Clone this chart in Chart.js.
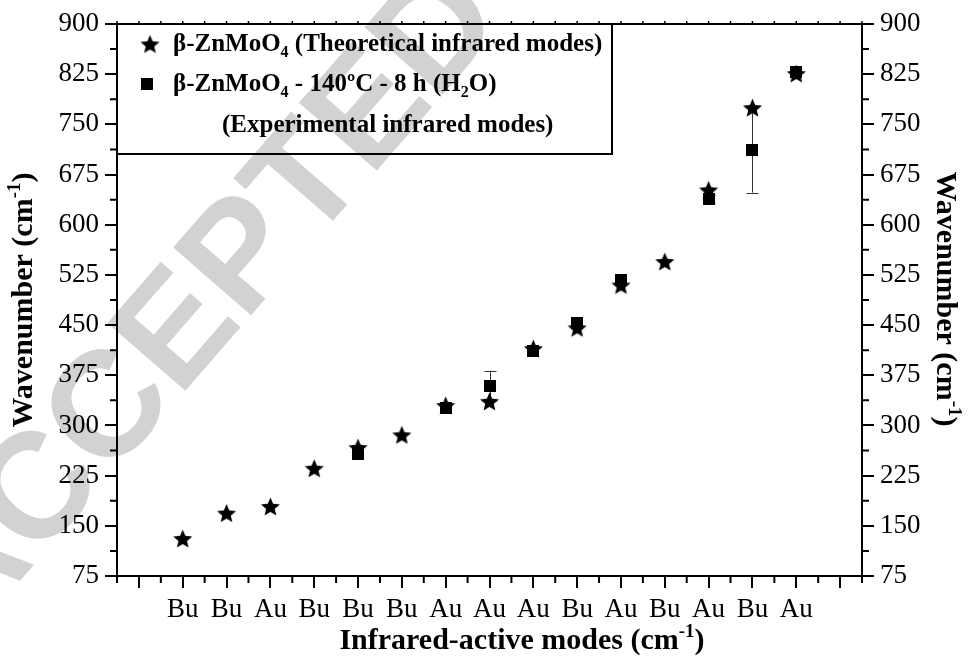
<!DOCTYPE html>
<html>
<head>
<meta charset="utf-8">
<script src="https://cdn.jsdelivr.net/npm/chart.js@4"></script>
<style>
  html, body { margin: 0; padding: 0; background: #fff; }
  #wrap { width: 968px; height: 659px; }
</style>
</head>
<body>
<div id="wrap"><canvas id="chart" width="968" height="659"></canvas></div>
<script>
const modes = ['Bu', 'Bu', 'Au', 'Bu', 'Bu', 'Bu', 'Au', 'Au', 'Au', 'Bu', 'Au', 'Bu', 'Au', 'Bu', 'Au'];
const theoretical = [131, 169, 179, 236, 267, 286, 330, 336, 415, 446, 510, 545, 652, 775, 826];
const experimental = [null, null, null, null, 258, null, 326, 359, 412, 453, 517, null, 638, 712, 829];
const experimentalErr = [0, 0, 0, 0, 0, 0, 0, 23, 0, 0, 0, 0, 6, 64, 0];
const yTicks = [75, 150, 225, 300, 375, 450, 525, 600, 675, 750, 825, 900];

const SERIF = "'Liberation Serif', 'Times New Roman', serif";

function makeStar(d) {
    const c = document.createElement('canvas');
    c.width = d;
    c.height = d;
    const g = c.getContext('2d');
    const R = d / 2 - 0.5, r = R * 0.45;
    const cx = d / 2, cy = d / 2 + 1;
    g.beginPath();
    for (let i = 0; i < 10; i++) {
        const a = -Math.PI / 2 + i * Math.PI / 5;
        const rad = i % 2 ? r : R;
        g.lineTo(cx + rad * Math.cos(a), cy + rad * Math.sin(a));
    }
    g.closePath();
    g.fillStyle = '#000';
    g.fill();
    return c;
}

function makeSquare(d) {
    const c = document.createElement('canvas');
    c.width = d;
    c.height = d;
    const g = c.getContext('2d');
    g.fillStyle = '#000';
    g.fillRect(0, 0, d, d);
    return c;
}

const starImg = makeStar(21);
const squareImg = makeSquare(12);

// text made of pieces, some of them sub/superscript
function richWidth(ctx, parts, size) {
    let w = 0;
    parts.forEach(p => {
        ctx.font = `bold ${p.small ? Math.round(size * 0.62) : size}px ${SERIF}`;
        w += ctx.measureText(p.t).width;
    });
    return w;
}

function drawRich(ctx, parts, x, y, size) {
    let cx = x;
    parts.forEach(p => {
        const fs = p.small ? Math.round(size * 0.62) : size;
        ctx.font = `bold ${fs}px ${SERIF}`;
        ctx.fillText(p.t, cx, y + (p.dy || 0) * size);
        cx += ctx.measureText(p.t).width;
    });
}

const watermark = {
    id: 'watermark',
    beforeDraw(chart) {
        const ctx = chart.ctx;
        ctx.save();
        ctx.translate(205, 305);
        ctx.rotate(-49 * Math.PI / 180);
        ctx.font = "bold 150px 'Liberation Sans', Arial, sans-serif";
        ctx.fillStyle = '#d2d2d2';
        ctx.textAlign = 'center';
        ctx.textBaseline = 'middle';
        ctx.fillText('ACCEPTED', 0, 0);
        ctx.restore();
    }
};

const errorBars = {
    id: 'errorBars',
    beforeDatasetsDraw(chart) {
        const ctx = chart.ctx;
        const xs = chart.scales.x, ys = chart.scales.y;
        ctx.save();
        ctx.strokeStyle = '#333';
        ctx.lineWidth = 1;
        experimental.forEach((v, i) => {
            const e = experimentalErr[i];
            if (v === null || !e) return;
            const px = Math.round(xs.getPixelForValue(i + 1)) + 0.5;
            const top = ys.getPixelForValue(v + e);
            const bot = ys.getPixelForValue(v - e);
            ctx.beginPath();
            ctx.moveTo(px, top);
            ctx.lineTo(px, bot);
            ctx.moveTo(px - 6, Math.round(top) + 0.5);
            ctx.lineTo(px + 6, Math.round(top) + 0.5);
            ctx.moveTo(px - 6, Math.round(bot) + 0.5);
            ctx.lineTo(px + 6, Math.round(bot) + 0.5);
            ctx.stroke();
        });
        ctx.restore();
    }
};

const frame = {
    id: 'frame',
    afterDraw(chart) {
        const ctx = chart.ctx;
        const a = chart.chartArea;
        const xs = chart.scales.x, ys = chart.scales.y;
        ctx.save();
        ctx.strokeStyle = '#000';
        ctx.lineWidth = 2;
        // top line
        ctx.beginPath();
        ctx.moveTo(a.left - 1, a.top);
        ctx.lineTo(a.right + 1, a.top);
        ctx.stroke();

        // minor ticks on y (both sides)
        for (let v = 112.5; v < 900; v += 75) {
            const py = ys.getPixelForValue(v);
            ctx.beginPath();
            ctx.moveTo(a.left, py);
            ctx.lineTo(a.left - 7, py);
            ctx.moveTo(a.right, py);
            ctx.lineTo(a.right + 7, py);
            ctx.stroke();
        }
        // minor ticks on x, small ticks on top
        for (let v = -0.5; v <= 16.5; v += 1) {
            const px = xs.getPixelForValue(v);
            ctx.beginPath();
            ctx.moveTo(px, a.bottom);
            ctx.lineTo(px, a.bottom + 7);
            ctx.stroke();
        }
        ctx.lineWidth = 1.5;
        for (let v = -0.5; v <= 16.5; v += 0.5) {
            const px = xs.getPixelForValue(v);
            ctx.beginPath();
            ctx.moveTo(px, a.top);
            ctx.lineTo(px, a.top - 3);
            ctx.stroke();
        }

        // legend box
        ctx.lineWidth = 2;
        ctx.strokeRect(a.left, a.top, 495, 130);
        ctx.drawImage(starImg, 150 - 10.5, 44 - 10.5);
        ctx.drawImage(squareImg, 147 - 6, 84 - 6);
        ctx.fillStyle = '#000';
        ctx.textBaseline = 'middle';
        ctx.textAlign = 'left';
        const lsize = 25;
        drawRich(ctx, [{ t: 'β-ZnMoO' }, { t: '4', small: true, dy: 0.32 }, { t: ' (Theoretical infrared modes)' }], 173, 45, lsize);
        drawRich(ctx, [{ t: 'β-ZnMoO' }, { t: '4', small: true, dy: 0.32 }, { t: ' - 140ºC - 8 h (H' }, { t: '2', small: true, dy: 0.32 }, { t: 'O)' }], 173, 85, lsize);
        drawRich(ctx, [{ t: '(Experimental infrared modes)' }], 222, 126, lsize);

        // axis titles
        const tsize = 30;
        const xTitle = [{ t: 'Infrared-active modes (cm' }, { t: '-1', small: true, dy: -0.3 }, { t: ')' }];
        const xw = richWidth(ctx, xTitle, tsize);
        drawRich(ctx, xTitle, 522 - xw / 2, 641, tsize);

        const yTitle = [{ t: 'Wavenumber (cm' }, { t: '-1', small: true, dy: -0.3 }, { t: ')' }];
        const yw = richWidth(ctx, yTitle, tsize);
        ctx.save();
        ctx.translate(24, 300);
        ctx.rotate(-Math.PI / 2);
        drawRich(ctx, yTitle, -yw / 2, 0, tsize);
        ctx.restore();
        ctx.save();
        ctx.translate(945, 299);
        ctx.rotate(Math.PI / 2);
        drawRich(ctx, yTitle, -yw / 2, 0, tsize);
        ctx.restore();
        ctx.restore();
    }
};

const tickFont = { family: SERIF, size: 27 };
const axisGrid = { drawOnChartArea: false, drawTicks: true, tickLength: 12, color: '#000', lineWidth: 2 };
const axisBorder = { display: true, color: '#000', width: 2 };

new Chart(document.getElementById('chart').getContext('2d'), {
    type: 'scatter',
    data: {
        datasets: [{
            label: 'Theoretical',
            data: theoretical.map((v, i) => ({ x: i + 1, y: v })),
            pointStyle: starImg,
            pointRadius: 5
        }, {
            label: 'Experimental',
            data: experimental.map((v, i) => ({ x: i + 1, y: v })).filter(p => p.y !== null),
            pointStyle: squareImg,
            pointRadius: 5
        }]
    },
    options: {
        responsive: false,
        animation: false,
        devicePixelRatio: 1,
        layout: { padding: { top: 24, left: 0, right: 0, bottom: 0 } },
        plugins: {
            legend: { display: false },
            tooltip: { enabled: false }
        },
        scales: {
            x: {
                type: 'linear',
                min: -0.5,
                max: 16.5,
                afterBuildTicks: (scale) => {
                    scale.ticks = [];
                    for (let i = 0; i <= 16; i++) scale.ticks.push({ value: i });
                },
                afterFit: (scale) => { scale.height = 83; },
                ticks: {
                    font: tickFont,
                    color: '#000',
                    padding: 6,
                    maxRotation: 0,
                    autoSkip: false,
                    callback: (v) => modes[v - 1] || ''
                },
                grid: axisGrid,
                border: axisBorder
            },
            y: {
                position: 'left',
                min: 75,
                max: 900,
                afterBuildTicks: (scale) => { scale.ticks = yTicks.map(v => ({ value: v })); },
                afterFit: (scale) => { scale.width = 117; },
                ticks: { font: tickFont, color: '#000', padding: 6 },
                grid: axisGrid,
                border: axisBorder
            },
            y2: {
                position: 'right',
                min: 75,
                max: 900,
                afterBuildTicks: (scale) => { scale.ticks = yTicks.map(v => ({ value: v })); },
                afterFit: (scale) => { scale.width = 106; },
                ticks: { font: tickFont, color: '#000', padding: 6 },
                grid: axisGrid,
                border: axisBorder
            }
        }
    },
    plugins: [watermark, errorBars, frame]
});
</script>
</body>
</html>
